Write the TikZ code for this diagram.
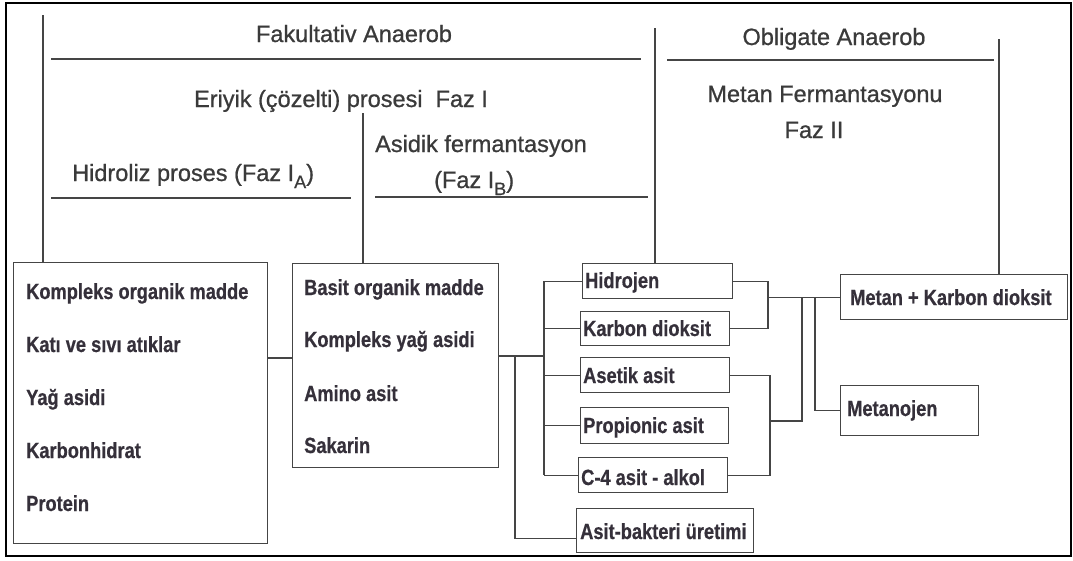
\documentclass[tikz,border=0pt]{standalone}
\usepackage{fontspec}
\setmainfont{Liberation Sans}
\newfontfamily\headfont[FakeBold=0.8]{Liberation Sans}
\newfontfamily\boxfont[FakeStretch=0.83,FakeBold=0.6]{Liberation Sans Bold}
\usetikzlibrary{calc}
\definecolor{ink}{HTML}{3A3A3A}
\definecolor{rule}{HTML}{454545}
\definecolor{boxink}{HTML}{35303A}
\newcommand\subidx[1]{\raisebox{-0.3em}{\fontsize{18}{18}\selectfont #1}}

\begin{document}
\begin{tikzpicture}[x=1pt,y=-1pt,
  head/.style={inner sep=0pt, text=ink, font=\headfont\fontsize{23.5}{26}\selectfont},
  lbl/.style={inner sep=0pt, anchor=base west, text=boxink,
              font=\boxfont\fontsize{22}{24}\selectfont},
  wire/.style={draw=rule, line width=1.4pt},
  box/.style={draw=rule, line width=1.4pt, rectangle, inner sep=0pt, anchor=north west},
  frame/.style={draw=black, line width=2.6pt},
]
\useasboundingbox (0,0) rectangle (1073,560);
\fill[white] (0,0) rectangle (1073,560);
\draw[frame] (6,3) rectangle (1071,556);

% ---- boxes ----
\node[box, minimum width=254pt, minimum height=281pt] (b1) at (13,262) {};
\node[box, minimum width=206pt, minimum height=204pt] (b2) at (292,263) {};
\node[box, minimum width=150pt, minimum height=35pt] (hid) at (582,263) {};
\node[box, minimum width=149pt, minimum height=34pt] (kar) at (580,311) {};
\node[box, minimum width=149pt, minimum height=35pt] (ase) at (580,357) {};
\node[box, minimum width=148pt, minimum height=36pt] (pro) at (580,407) {};
\node[box, minimum width=149pt, minimum height=35pt] (c4)  at (578,457) {};
\node[box, minimum width=177pt, minimum height=44pt] (ab)  at (576,508) {};
\node[box, minimum width=227pt, minimum height=45pt] (mk)  at (840,274) {};
\node[box, minimum width=138pt, minimum height=50pt] (mj)  at (840,385) {};

% ---- box texts ----
\node[lbl] (l11) at (26,299) {Kompleks organik madde};
\node[lbl] (l12) at (26,352) {Katı ve sıvı atıklar};
\node[lbl] (l13) at (26,405) {Yağ asidi};
\node[lbl] (l14) at (26,458) {Karbonhidrat};
\node[lbl] (l15) at (26,511) {Protein};
\node[lbl] (l21) at (304,295) {Basit organik madde};
\node[lbl] (l22) at (304,347) {Kompleks yağ asidi};
\node[lbl] (l23) at (304,401) {Amino asit};
\node[lbl] (l24) at (304,453) {Sakarin};
\node[lbl] (lhid) at (585,288) {Hidrojen};
\node[lbl] (lkar) at (583,336) {Karbon dioksit};
\node[lbl] (lase) at (583,383) {Asetik asit};
\node[lbl] (lpro) at (583,433) {Propionic asit};
\node[lbl] (lc4)  at (581,485) {C-4 asit - alkol};
\node[lbl] (lab)  at (580,539) {Asit-bakteri üretimi};
\node[lbl] (lmk)  at (850,305) {Metan + Karbon dioksit};
\node[lbl] (lmj)  at (847,416) {Metanojen};

% ---- headings ----
\node[head, anchor=base] (hfak) at (354,42) {Fakultativ Anaerob};
\node[head, anchor=base] (heri) at (341,107) {Eriyik (çözelti) prosesi~ Faz I};
\node[head, anchor=base west] (hhid) at (72,181) {Hidroliz proses (Faz I\subidx{A})};
\node[head, anchor=base west] (hasi) at (375,152) {Asidik fermantasyon};
\node[head, anchor=base west] (hfb) at (434,188) {(Faz I\subidx{B})};
\node[head, anchor=base] (hobl) at (834,45) {Obligate Anaerob};
\node[head, anchor=base] (hmet) at (825,102) {Metan Fermantasyonu};
\node[head, anchor=base] (hf2) at (814,138) {Faz II};

% ---- heading rules ----
\coordinate (r1a) at (51,59);  \coordinate (r1b) at (641,59);
\coordinate (r2a) at (667,60); \coordinate (r2b) at (994,60);
\coordinate (r3a) at (51,198); \coordinate (r3b) at (351,198);
\coordinate (r4a) at (375,197); \coordinate (r4b) at (648,197);
\draw[wire] (r1a) -- (r1b);
\draw[wire] (r2a) -- (r2b);
\draw[wire] (r3a) -- (r3b);
\draw[wire] (r4a) -- (r4b);

% ---- phase dividers down to the boxes ----
\coordinate (tA) at (43,15);   \draw[wire] (tA) -- (tA |- b1.north);
\coordinate (tB) at (363,113); \draw[wire] (tB) -- (tB |- b2.north);
\coordinate (tC) at (655,28);  \draw[wire] (tC) -- (tC |- hid.north);
\coordinate (tD) at (999,39);  \draw[wire] (tD) -- (tD |- mk.north);

% ---- flow connectors ----
\coordinate (jB) at (280,358);
\draw[wire] (b1.east |- jB) -- (b2.west |- jB);
\coordinate (bus) at (544,356);
\draw[wire] (b2.east |- bus) -- (bus);
\draw[wire] (bus |- hid.west) -- (bus |- c4.west);
\foreach \n in {hid,kar,ase,pro,c4} \draw[wire] (bus |- \n.west) -- (\n.west);
\coordinate (dn) at (515,356);
\coordinate (abin) at ($(ab.west)+(0,8)$);
\draw[wire] (dn) -- (dn |- abin) -- (abin);

\coordinate (k1) at (768,0);
\draw[wire] (hid.east) -- (k1 |- hid.east) -- (k1 |- kar.east) -- (kar.east);
\draw[wire] (k1 |- mk.west) -- (mk.west);
\coordinate (k2) at (770,0);
\draw[wire] (ase.east) -- (k2 |- ase.east) -- (k2 |- c4.east) -- (c4.east);
\coordinate (m2) at (770,421);
\coordinate (k3) at (802,0);
\draw[wire] (m2) -- (k3 |- m2) -- (k3 |- mk.west);
\coordinate (k4) at (815,0);
\draw[wire] (k4 |- mk.west) -- (k4 |- mj.west) -- (mj.west);
\end{tikzpicture}
\end{document}
